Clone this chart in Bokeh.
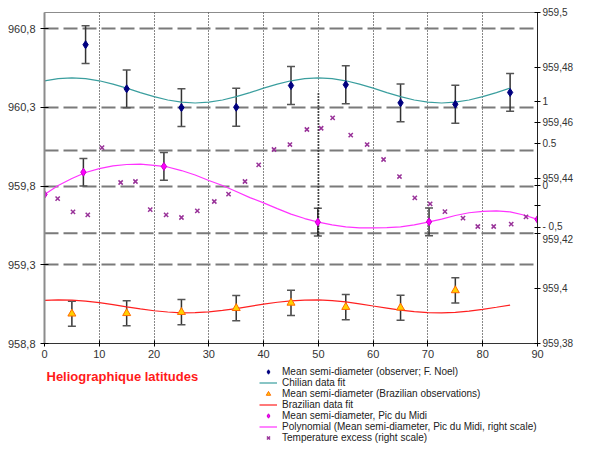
from bokeh.plotting import figure
from bokeh.layouts import column
from bokeh.models import (Range1d, LinearAxis, FixedTicker, Whisker, TeeHead, ColumnDataSource,
                          Legend, LegendItem, Span, Label)
from bokeh.embed import file_html
from bokeh.resources import INLINE

# ---------------- data ----------------
# Mean semi-diameter (observer; F. Noel) - left scale
noel_x = [7.5, 15, 25, 35, 45, 55, 65, 75, 85]
noel_y = [960.697, 960.417, 960.298, 960.300, 960.438, 960.443, 960.328, 960.319, 960.394]
noel_err = [0.12, 0.12, 0.12, 0.12, 0.12, 0.12, 0.12, 0.12, 0.12]

# Chilian data fit - left scale
fit_x = [0, 2.5, 5, 7.5, 10, 12.5, 15, 17.5, 20, 22.5, 25, 27.5, 30, 32.5, 35, 37.5, 40, 42.5,
         45, 47.5, 50, 52.5, 55, 57.5, 60, 62.5, 65, 67.5, 70, 72.5, 75, 77.5, 80, 82.5, 85]
chile_fit = [960.468, 960.482, 960.487, 960.482, 960.468, 960.447, 960.421, 960.393, 960.367,
             960.346, 960.332, 960.327, 960.332, 960.346, 960.367, 960.393, 960.421, 960.447,
             960.468, 960.482, 960.487, 960.482, 960.468, 960.447, 960.421, 960.393, 960.367,
             960.346, 960.332, 960.327, 960.332, 960.346, 960.367, 960.393, 960.421]

# Mean semi-diameter (Brazilian observations) - left scale
braz_x = [5, 15, 25, 35, 45, 55, 65, 75]
braz_y = [958.989, 958.992, 958.999, 959.024, 959.058, 959.031, 959.027, 959.137]
braz_err = [0.08, 0.08, 0.08, 0.08, 0.08, 0.08, 0.08, 0.08]

# Brazilian data fit - left scale
braz_fit = [959.074, 959.077, 959.075, 959.069, 959.060, 959.047, 959.033, 959.020, 959.008,
            959.000, 958.995, 958.996, 959.001, 959.010, 959.022, 959.036, 959.050, 959.062,
            959.071, 959.076, 959.077, 959.072, 959.064, 959.052, 959.038, 959.025, 959.012,
            959.002, 958.996, 958.995, 958.998, 959.006, 959.017, 959.030, 959.044]

# Mean semi-diameter, Pic du Midi - right scale
pic_x = [0, 7.1, 21.8, 49.9, 70.2, 90]
pic_y = [959.4340, 959.4421, 959.4442, 959.4240, 959.4241, 959.4250]
pic_err = [0.0, 0.005, 0.005, 0.005, 0.005, 0.0]

# Polynomial (Pic du Midi, right scale)
poly_x = [0, 2.5, 5, 7.5, 10, 12.5, 15, 17.5, 20, 22.5, 25, 27.5, 30, 32.5, 35, 37.5, 40, 42.5,
          45, 47.5, 50, 52.5, 55, 57.5, 60, 62.5, 65, 67.5, 70, 72.5, 75, 77.5, 80, 82.5, 85,
          87.5, 90]
poly_y = [959.4340, 959.4373, 959.4398, 959.4420, 959.4434, 959.4444, 959.4449, 959.4450,
          959.4446, 959.4440, 959.4427, 959.4411, 959.4391, 959.4373, 959.4351, 959.4329,
          959.4310, 959.4289, 959.4269, 959.4253, 959.4240, 959.4230, 959.4223, 959.4219,
          959.4219, 959.4220, 959.4223, 959.4230, 959.4240, 959.4251, 959.4264, 959.4274,
          959.4279, 959.4281, 959.4277, 959.4266, 959.4250]

# Temperature excess (right scale, own units)
temp_x = [2.4, 5.2, 7.9, 10.5, 13.9, 16.6, 19.3, 22.2, 25.0, 27.9, 31.0, 33.6, 36.6, 39.1, 41.9,
          44.8, 47.9, 50.5, 52.6, 55.9, 58.9, 61.9, 64.8, 67.6, 70.4, 73.1, 76.4, 79.1, 82.0,
          85.2, 87.9]
temp_v = [-0.155, -0.313, -0.349, 0.452, 0.036, 0.048, -0.286, -0.349, -0.381, -0.302, -0.190,
          -0.103, 0.048, 0.246, 0.429, 0.488, 0.667, 0.682, 0.806, 0.599, 0.488, 0.310, 0.107,
          -0.147, -0.218, -0.310, -0.389, -0.488, -0.488, -0.460, -0.373]

x_ticks = [0, 10, 20, 30, 40, 50, 60, 70, 80, 90]
left_ticks = [958.8, 959.3, 959.8, 960.3, 960.8]
left_labels = ["958,8", "959,3", "959,8", "960,3", "960,8"]
right_ticks = [959.38, 959.40, 959.42, 959.44, 959.46, 959.48, 959.50]
right_labels = ["959,38", "959,4", "- 0,5\n959,42", "959,44", "959,46", "959,48", "959,5"]
temp_ticks = [1, 0.5, 0, -0.5]
temp_labels = ["1", "0.5", "0", ""]

legend_labels = [
    "Mean semi-diameter (observer; F. Noel)",
    "Chilian data fit",
    "Mean semi-diameter (Brazilian observations)",
    "Brazilian data fit",
    "Mean semi-diameter, Pic du Midi",
    "Polynomial (Mean semi-diameter, Pic du Midi, right scale)",
    "Temperature excess (right scale)",
]
x_title = "Heliographique latitudes"

LEFT = (958.8, 960.9016)
RIGHT = (959.38, 959.50)
TEMP = (-1.881, 2.060)

FONT = "Liberation Sans"
C_NOEL = "#000080"
C_CHILE = "#3A9E9E"
C_BFIT = "#FF2020"
C_POLY = "#FF33FF"
C_TEMP = "#993399"

p = figure(width=576, height=362, output_backend="svg", toolbar_location=None,
           x_range=Range1d(0, 90), y_range=Range1d(*LEFT),
           min_border_left=44, min_border_right=37, min_border_top=12, min_border_bottom=19)
p.extra_y_ranges = {"right": Range1d(*RIGHT), "temp": Range1d(*TEMP)}
p.outline_line_color = "#8c8c8c"
p.outline_line_width = 1

# grids
p.xgrid.ticker = FixedTicker(ticks=[10, 20, 30, 40, 50, 60, 70, 80])
p.xgrid.grid_line_color = "#111111"
p.xgrid.grid_line_dash = "1 2"
p.xgrid.grid_line_width = 1
p.ygrid.ticker = FixedTicker(ticks=[959.3, 959.8, 960.3, 960.8])
p.ygrid.grid_line_color = "#7a7a7a"
p.ygrid.grid_line_dash = "14 5"
p.ygrid.grid_line_width = 2
for v in (959.45, 959.42):
    p.add_layout(Span(location=v, dimension="width", y_range_name="right",
                      line_color="#7a7a7a", line_dash="14 5", line_width=2, level="underlay"))

# axes
ax = p.xaxis[0]
ax.ticker = FixedTicker(ticks=x_ticks)
ax.axis_line_color = "#333333"
ax.major_tick_in = 3
ax.major_tick_out = 3
ax.minor_tick_line_color = None
ax.major_label_text_font = FONT
ax.major_label_text_font_size = "11px"
ax.major_label_text_color = "#333333"
ax.major_label_standoff = 3

ay = p.yaxis[0]
ay.ticker = FixedTicker(ticks=left_ticks)
ay.major_label_overrides = {t: l for t, l in zip(left_ticks, left_labels)}
ay.axis_line_color = "#8c8c8c"
ay.axis_line_width = 2
ay.major_tick_in = 4
ay.major_tick_out = 4
ay.minor_tick_line_color = None
ay.major_label_text_font = FONT
ay.major_label_text_font_size = "11px"
ay.major_label_text_color = "#333333"
ay.major_label_standoff = 5


def to_right(t):
    return round(RIGHT[0] + (t - TEMP[0]) / (TEMP[1] - TEMP[0]) * (RIGHT[1] - RIGHT[0]), 6)


rt = right_ticks + [to_right(t) for t in temp_ticks] + [959.43]
overrides = {t: l for t, l in zip(right_ticks, right_labels)}
overrides.update({to_right(t): l for t, l in zip(temp_ticks, temp_labels)})
overrides[959.43] = ""
ar = LinearAxis(y_range_name="right", ticker=FixedTicker(ticks=rt),
                major_label_overrides=overrides)
ar.axis_line_color = "#222222"
ar.major_tick_in = 3
ar.major_tick_out = 3
ar.minor_tick_line_color = None
ar.major_label_text_font = FONT
ar.major_label_text_font_size = "10px"
ar.major_label_text_color = "#333333"
ar.major_label_standoff = 2
p.add_layout(ar, "right")

# thicker dotted segment on x = 50
p.segment(x0=[50], y0=[960.387], x1=[50], y1=[959.486], line_color="#000000",
          line_dash="1 2", line_width=2)

LINE_CHILE = dict(line_color=C_CHILE, line_width=1.2)
LINE_BFIT = dict(line_color=C_BFIT, line_width=1.2)
LINE_POLY = dict(line_color=C_POLY, line_width=1.2)
NOEL_M = dict(marker="diamond", size=8, fill_color=C_NOEL, line_color=C_NOEL)
BRAZ_M = dict(marker="triangle", size=8, fill_color="#FFD000", line_color="#FF6A00", line_width=1)
PIC_M = dict(marker="diamond", size=8, fill_color="#FF00FF", line_color="#CC00CC")
TEMP_M = dict(marker="x", size=6, line_color=C_TEMP, line_width=1.5)

# lines
p.line(fit_x, chile_fit, **LINE_CHILE)
p.line(fit_x, braz_fit, **LINE_BFIT)
p.line(poly_x, poly_y, y_range_name="right", **LINE_POLY)


def whisk(xs, ys, es, rng=None):
    src = ColumnDataSource(dict(x=xs, lo=[y - e for y, e in zip(ys, es)],
                                hi=[y + e for y, e in zip(ys, es)]))
    kw = {} if rng is None else {"y_range_name": rng}
    w = Whisker(source=src, base="x", lower="lo", upper="hi", dimension="height",
                line_color="#333333", line_width=1.5,
                upper_head=TeeHead(size=8, line_color="#555555", line_width=1.5),
                lower_head=TeeHead(size=8, line_color="#555555", line_width=1.5), **kw)
    p.add_layout(w)


whisk(noel_x, noel_y, noel_err)
whisk(braz_x, braz_y, braz_err)
whisk(pic_x[1:-1], pic_y[1:-1], pic_err[1:-1], "right")

# markers
p.scatter(noel_x, noel_y, **NOEL_M)
p.scatter(braz_x, braz_y, **BRAZ_M)
p.scatter(pic_x, pic_y, y_range_name="right", **PIC_M)
p.scatter(temp_x, temp_v, y_range_name="temp", **TEMP_M)

# ---------------- legend strip below ----------------
q = figure(width=576, height=81, output_backend="svg", toolbar_location=None,
           x_range=Range1d(44, 539), y_range=Range1d(0, 81),
           x_axis_type=None, y_axis_type=None, min_border=0)
q.outline_line_color = None
q.grid.visible = False
# legend proxies: same series, hidden (legend swatches only)
lr = [
    q.scatter(noel_x, noel_y, visible=False, **NOEL_M),
    q.line(fit_x, chile_fit, visible=False, **LINE_CHILE),
    q.scatter(braz_x, braz_y, visible=False, **BRAZ_M),
    q.line(fit_x, braz_fit, visible=False, **LINE_BFIT),
    q.scatter(pic_x, pic_y, visible=False, **dict(PIC_M, size=7)),
    q.line(poly_x, poly_y, visible=False, **LINE_POLY),
    q.scatter(temp_x, temp_v, visible=False, **TEMP_M),
]
legend = Legend(items=[LegendItem(label=l, renderers=[r]) for l, r in zip(legend_labels, lr)],
                location=(215, 0))
legend.background_fill_alpha = 0
legend.border_line_alpha = 0
legend.inactive_fill_alpha = 0
legend.padding = 0
legend.margin = 0
legend.spacing = 0
legend.label_height = 11
legend.glyph_height = 11
legend.glyph_width = 18
legend.label_standoff = 5
legend.label_text_font = FONT
legend.label_text_font_size = "10px"
legend.label_text_color = "#222222"
legend.label_text_line_height = 1.0
q.add_layout(legend)

q.add_layout(Label(x=46, y=67, text=x_title, text_font=FONT,
                   text_font_size="13px", text_font_style="bold", text_color="#FF1A1A",
                   text_baseline="middle", text_align="left"))

layout = column(p, q, spacing=0)
open("out.html", "w").write(file_html(layout, INLINE))
